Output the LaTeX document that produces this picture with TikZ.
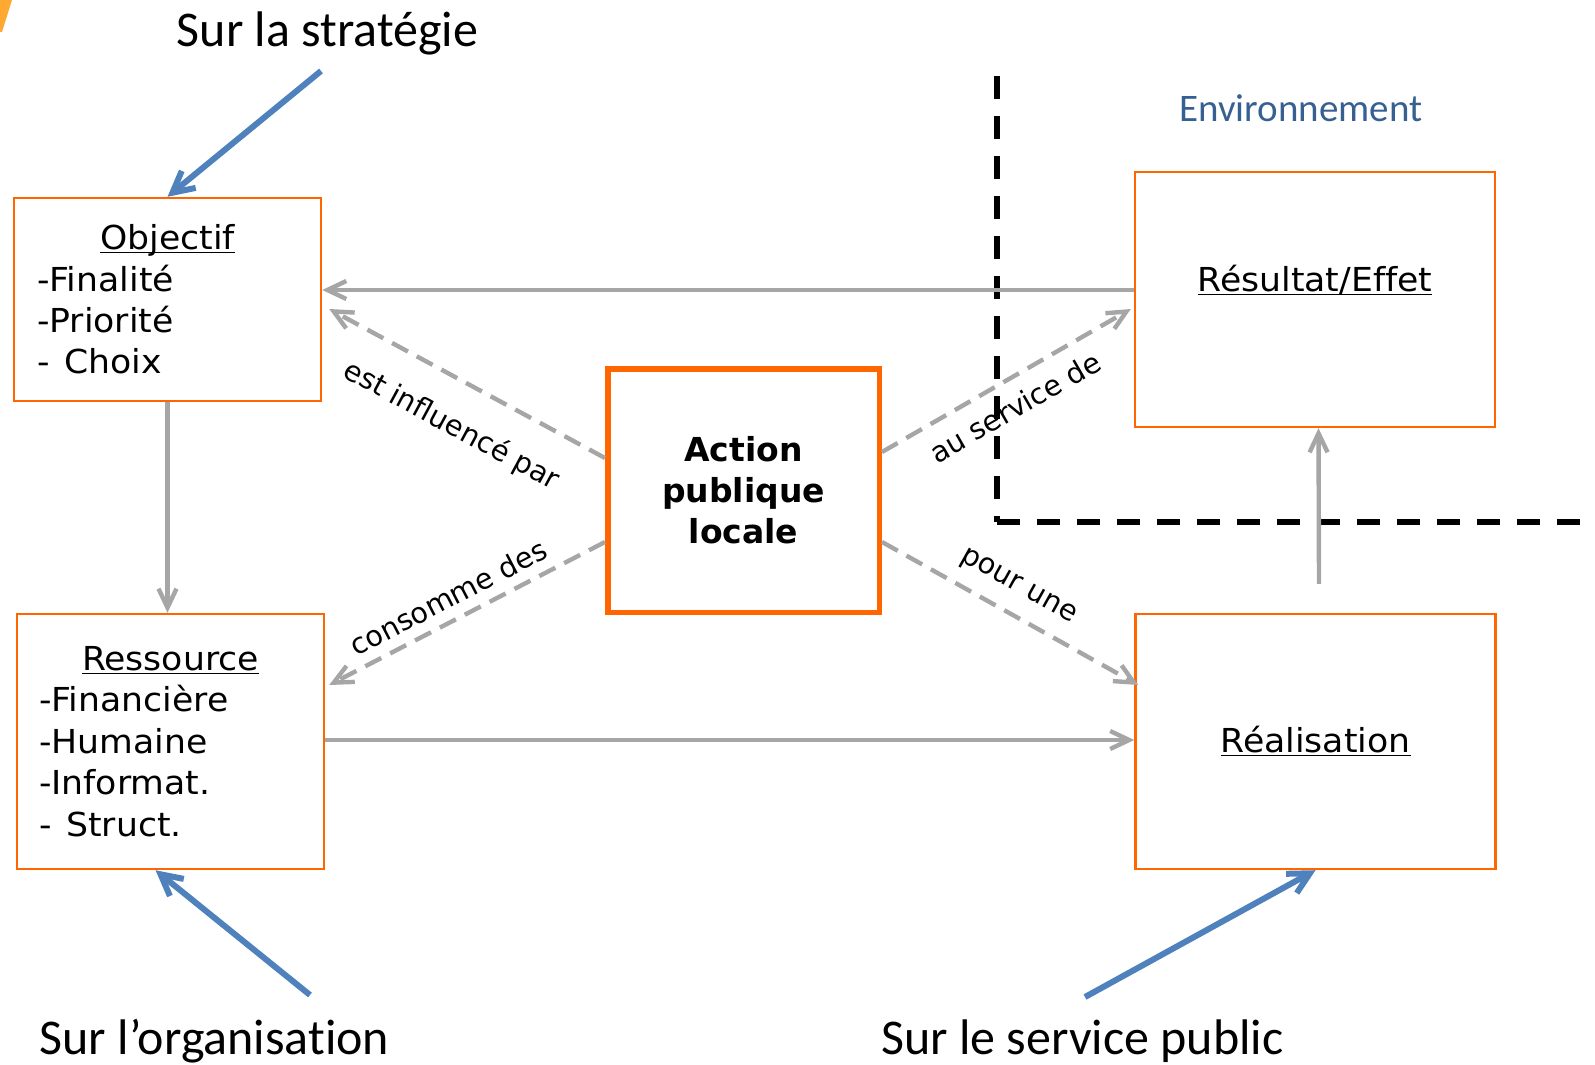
\documentclass[tikz,border=0pt]{standalone}
\usepackage{fontspec}
\setmainfont{DejaVu Sans}
\newfontfamily\boxfont{DejaVu Sans}[FakeStretch=1.05, Ligatures=NoCommon]
\newfontfamily\calibri{Carlito}[Ligatures=NoCommon]
\usetikzlibrary{arrows.meta, positioning, calc}

\definecolor{boxorange}{RGB}{255,102,0}
\definecolor{arrowgrey}{RGB}{166,166,166}
\definecolor{noteblue}{RGB}{79,129,189}
\definecolor{envblue}{RGB}{55,96,146}

\newcommand{\boxtitle}[1]{\underline{\smash{#1}}\vphantom{#1}}

\begin{document}
\begin{tikzpicture}[x=0.5pt, y=-0.5pt]
    \tikzstyle{bloc}=[draw=boxorange, line width=1.2pt, rectangle, inner sep=0pt, font=\boxfont\fontsize{16.5}{20.7}\selectfont];
    \tikzstyle{lien}=[color=arrowgrey, line width=2.2pt, -{Straight Barb[length=9.5pt,width=9pt]}];
    \tikzstyle{lienpoint}=[lien, dash pattern=on 9pt off 5pt];
    \tikzstyle{etiq}=[font=\fontsize{14.3}{16}\selectfont, text=black, inner sep=0pt, sloped];
    \tikzstyle{levier}=[color=noteblue, line width=3pt, -{Straight Barb[length=10.5pt,width=11pt]}];
    \tikzstyle{titre}=[font=\calibri\fontsize{25}{30}\selectfont, anchor=base, inner sep=0pt];
    \tikzstyle{frontiere}=[draw=black, line width=2.6pt, dash pattern=on 11.5pt off 8.5pt];

    \useasboundingbox (0,0) rectangle (1595,1065);
    \fill[orange!85!yellow, opacity=.8] (0,0) -- (12,0) -- (2,32) -- (0,32) -- cycle;

    % boxes
    \node[bloc, minimum width=153.5pt, minimum height=101.5pt, text width=130.5pt, align=left] (obj) at (167.5,299.5)
        {\makebox[\linewidth]{\boxtitle{Objectif}}\\-Finalité\\-Priorité\\-\hspace{0.45em}Choix};
    \node[bloc, minimum width=153.5pt, minimum height=127.5pt, text width=131.5pt, align=left] (ress) at (170.5,741.5)
        {\makebox[\linewidth]{\boxtitle{Ressource}}\\-Financière\\-Humaine\\-Informat.\\-\hspace{0.45em}Struct.};
    \node[bloc, minimum width=180pt, minimum height=127.5pt, align=center] (res) at (1315,299.5)
        {\boxtitle{Résultat/Effet}\\\mbox{}};
    \node[bloc, minimum width=180pt, minimum height=127.5pt, align=center] (real) at (1315.5,741.5)
        {\boxtitle{Réalisation}};
    \node[bloc, line width=2.75pt, minimum width=135.75pt, minimum height=121.75pt, align=center, font=\fontsize{16.5}{20.5}\selectfont\bfseries] (act) at (743.5,490.5)
        {Action\\publique\\locale};

    % texts
    \node[titre] (strat) at (327.5,47) {Sur la stratégie};
    \node[titre] (orga) at (214.5,1054) {Sur l’organisation};
    \node[titre] (serv) at (1082.5,1054) {Sur le service public};
    \node[titre, font=\calibri\fontsize{19.5}{23}\selectfont, text=envblue] (env) at (1301,122) {Environnement};

    % environment boundary
    \coordinate (env-haut) at (997,76);
    \coordinate (coin) at (997,522);
    \coordinate (env-droite) at (1595,522);
    \draw[frontiere] (env-haut) -- (coin);
    \draw[frontiere] (coin) -- (env-droite);

    \coordinate (strat-pt) at (321,71);
    \coordinate (orga-pt) at (310,995);
    \coordinate (serv-pt) at (1085,997);

    \path[lien]
    ($(res.west)+(0,-9.5)$) edge ($(obj.east)+(0,-9.5)$)
    ($(ress.east)+(0,-1.5)$) edge ($(real.west)+(0,-1.5)$)
    (obj.south) edge (obj.south |- ress.north)
    ($(real.north)+(3.5,-29)$) edge ($(res.south)+(3.5,0)$);

    \path[lienpoint]
    ($(act.west)+(0,-32.5)$) edge node[etiq, pos=0.48, below=14pt] {est influencé par} ($(obj.east)+(7,9.5)$)
    ($(act.west)+(0,51.5)$) edge node[etiq, pos=0.53, above=5pt] {consomme des} ($(ress.east)+(4,-56.5)$)
    ($(act.east)+(0,-38.5)$) edge node[etiq, pos=0.48, below=7pt] {au service de} ($(res.west)+(-3,9.5)$)
    ($(act.east)+(0,51.5)$) edge node[etiq, pos=0.48, above=7pt] {pour une} ($(real.west)+(4,-56.5)$);

    \path[levier]
    (strat-pt) edge (obj.north)
    (orga-pt) edge ($(ress.south)+(-15,0)$)
    (serv-pt) edge (real.south);
\end{tikzpicture}
\end{document}
